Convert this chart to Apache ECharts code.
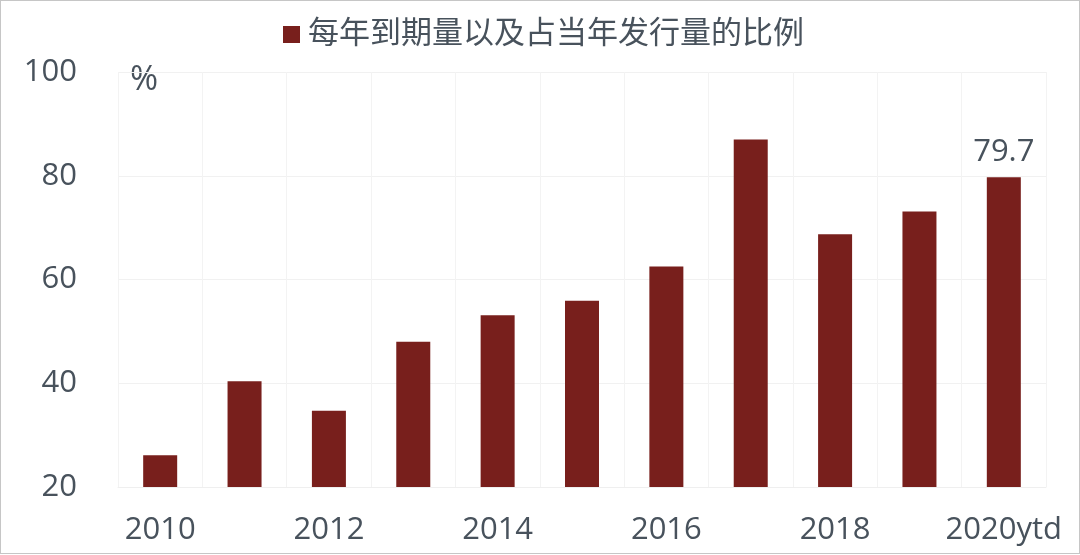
<!DOCTYPE html>
<html>
<head>
<meta charset="utf-8">
<script src="https://cdn.jsdelivr.net/npm/echarts@6/dist/echarts.min.js"></script>
<style>
html,body{margin:0;padding:0;background:#fff;}
#frame{position:absolute;left:0;top:0;width:1078px;height:552px;border:1px solid #c6c6c6;}
#chart{position:absolute;left:0;top:0;width:1080px;height:555px;}
</style>
</head>
<body>
<div id="frame"></div>
<div id="chart"></div>
<script>
const categories = ['2010','2011','2012','2013','2014','2015','2016','2017','2018','2019','2020ytd'];
const values = [26.1, 40.4, 34.7, 48.0, 53.1, 55.9, 62.5, 87.0, 68.7, 73.1, 79.7];
const yTicks = [20, 40, 60, 80, 100];
const seriesName = '每年到期量以及占当年发行量的比例';
const unitLabel = '%';

const textColor = '#48525c';
const fontFam = "'Open Sans','Noto Sans CJK SC',sans-serif";
const chart = echarts.init(document.getElementById('chart'), null, {renderer: 'canvas'});
chart.setOption({
  animation: false,
  textStyle: {fontFamily: fontFam},
  legend: {
    top: 14, left: 278,
    itemWidth: 17, itemHeight: 17, itemGap: 8,
    icon: 'rect',
    textStyle: {fontSize: 31, color: textColor, fontFamily: fontFam, padding: [0,0,0,3]},
    data: [seriesName]
  },
  grid: {left: 118, right: 34, top: 72, bottom: 68, containLabel: false},
  xAxis: {
    type: 'category',
    data: categories,
    axisLine: {show: true, lineStyle: {color: '#efefef'}},
    axisTick: {show: false},
    axisLabel: {interval: 1, fontSize: 31, color: textColor, margin: 28, fontFamily: fontFam},
    splitLine: {show: true, interval: 0, lineStyle: {color: '#f3f3f3'}}
  },
  yAxis: {
    type: 'value',
    min: yTicks[0], max: yTicks[yTicks.length-1], interval: 20,
    axisLine: {show: false},
    axisTick: {show: false},
    axisLabel: {fontSize: 31, color: textColor, margin: 41, fontFamily: fontFam},
    splitLine: {show: true, lineStyle: {color: '#f1f1f1'}}
  },
  graphic: [{
    type: 'text', left: 130, top: 63,
    style: {text: unitLabel, fontSize: 34, fill: textColor, fontFamily: fontFam}
  }],
  series: [{
    name: seriesName,
    type: 'bar',
    data: values.map((v, i) => i === values.length - 1
      ? {value: v, label: {show: true, position: 'top', distance: 10, fontSize: 31, color: textColor, fontFamily: fontFam}}
      : v),
    barWidth: 34,
    itemStyle: {color: '#781f1c'}
  }]
});
</script>
</body>
</html>
